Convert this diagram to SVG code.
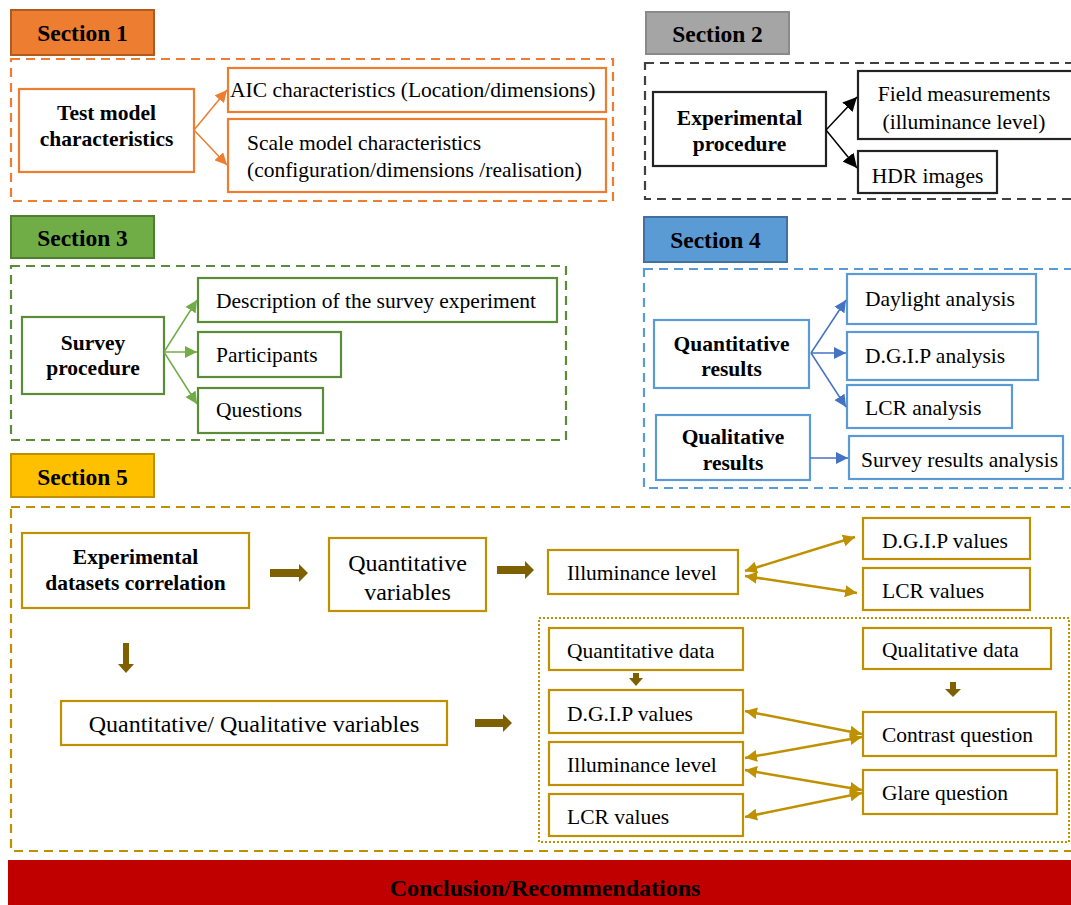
<svg xmlns="http://www.w3.org/2000/svg" width="1071" height="905" viewBox="0 0 1071 905">
<defs>
<style>
text{font-family:"Liberation Serif","Times New Roman",serif;fill:#000}
.lbl{font-size:23.5px;font-weight:bold;text-anchor:middle}
.b{font-size:21.5px;font-weight:bold;text-anchor:middle}
.t{font-size:21.5px}
.tm{font-size:21.5px;text-anchor:middle}
.tl{font-size:24px;text-anchor:middle}
.box{fill:#fff;stroke-width:2.2}
.o{stroke:#ED7D31}.k{stroke:#222}.g{stroke:#5B8C3A}.bl{stroke:#5B9BD5}.y{stroke:#BF9000}
.dash{fill:none;stroke-width:2.2;stroke-dasharray:9 6}
</style>
<marker id="ao" viewBox="0 0 10 10" refX="10" refY="5" markerWidth="12" markerHeight="12" markerUnits="userSpaceOnUse" orient="auto"><path d="M0,0L10,5L0,10z" fill="#ED7D31"/></marker>
<marker id="ak" viewBox="0 0 10 10" refX="10" refY="5" markerWidth="14" markerHeight="14" markerUnits="userSpaceOnUse" orient="auto"><path d="M0,0L10,5L0,10z" fill="#000"/></marker>
<marker id="ag" viewBox="0 0 10 10" refX="10" refY="5" markerWidth="12" markerHeight="12" markerUnits="userSpaceOnUse" orient="auto"><path d="M0,0L10,5L0,10z" fill="#70AD47"/></marker>
<marker id="ab" viewBox="0 0 10 10" refX="10" refY="5" markerWidth="12" markerHeight="12" markerUnits="userSpaceOnUse" orient="auto"><path d="M0,0L10,5L0,10z" fill="#4472C4"/></marker>
<marker id="ay" viewBox="0 0 10 10" refX="10" refY="5" markerWidth="12" markerHeight="12" markerUnits="userSpaceOnUse" orient="auto-start-reverse"><path d="M0,0L10,5L0,10z" fill="#BF9000"/></marker>
</defs>
<rect width="1071" height="905" fill="#fff"/>

<!-- Section frames -->
<g id="frames">
<rect class="dash" x="11" y="59" width="602" height="142" stroke="#ED7D31"/>
<rect class="dash" x="645" y="63" width="430" height="136" stroke="#404040"/>
<rect class="dash" x="11" y="266" width="555" height="174" stroke="#5B8C3A"/>
<rect class="dash" x="644" y="269" width="430" height="219" stroke="#5B9BD5"/>
<rect class="dash" x="11" y="507" width="1064" height="344" stroke="#BF9000"/>
<rect x="539" y="618" width="530" height="224" fill="none" stroke="#BF9000" stroke-width="2" stroke-dasharray="2 2"/>
</g>

<!-- Section labels -->
<g id="sec1"><rect x="11" y="10" width="143" height="45" fill="#ED7D31" stroke="#AE5A21" stroke-width="2"/><text class="lbl" x="82.5" y="41">Section 1</text></g>
<g id="sec2"><rect x="646" y="12" width="143" height="42" fill="#A5A5A5" stroke="#8A8A8A" stroke-width="2"/><text class="lbl" x="717.5" y="42">Section 2</text></g>
<g id="sec3"><rect x="11" y="216" width="143" height="42" fill="#70AD47" stroke="#507E32" stroke-width="2"/><text class="lbl" x="82.5" y="246">Section 3</text></g>
<g id="sec4"><rect x="644" y="217" width="143" height="45" fill="#5B9BD5" stroke="#41719C" stroke-width="2"/><text class="lbl" x="715.5" y="248">Section 4</text></g>
<g id="sec5"><rect x="11" y="454" width="143" height="43" fill="#FFC000" stroke="#BF9000" stroke-width="2"/><text class="lbl" x="82.5" y="485">Section 5</text></g>

<!-- Section 1 nodes -->
<g id="n-test"><rect class="box o" x="19" y="89" width="175" height="83"/><text class="b" x="106.5" y="120">Test model</text><text class="b" x="106.5" y="146">characteristics</text></g>
<g id="n-aic"><rect class="box o" x="228" y="68" width="378" height="44"/><text class="t" x="230" y="97">AIC characteristics (Location/dimensions)</text></g>
<g id="n-scale"><rect class="box o" x="228" y="119" width="378" height="73"/><text class="t" x="247" y="150">Scale model characteristics</text><text class="t" x="247" y="177">(configuration/dimensions /realisation)</text></g>

<!-- Section 2 nodes -->
<g id="n-exp"><rect class="box k" x="653" y="92" width="173" height="74"/><text class="b" x="739.5" y="125">Experimental</text><text class="b" x="739.5" y="151">procedure</text></g>
<g id="n-field"><rect class="box k" x="858" y="71" width="216" height="68"/><text class="tm" x="964" y="101">Field measurements</text><text class="tm" x="964" y="129">(illuminance level)</text></g>
<g id="n-hdr"><rect class="box k" x="858" y="151" width="139" height="42"/><text class="tm" x="927.5" y="183">HDR images</text></g>

<!-- Section 3 nodes -->
<g id="n-survey"><rect class="box g" x="22" y="317" width="142" height="77"/><text class="b" x="93" y="350">Survey</text><text class="b" x="93" y="375">procedure</text></g>
<g id="n-desc"><rect class="box g" x="198" y="278" width="359" height="44"/><text class="t" x="216" y="308">Description of the survey experiment</text></g>
<g id="n-part"><rect class="box g" x="198" y="332" width="143" height="45"/><text class="t" x="216" y="362">Participants</text></g>
<g id="n-quest"><rect class="box g" x="198" y="388" width="125" height="45"/><text class="t" x="216" y="417">Questions</text></g>

<!-- Section 4 nodes -->
<g id="n-quantres"><rect class="box bl" x="654" y="320" width="155" height="68"/><text class="b" x="731.5" y="351">Quantitative</text><text class="b" x="731.5" y="376">results</text></g>
<g id="n-day"><rect class="box bl" x="847" y="274" width="189" height="50"/><text class="t" x="865" y="306">Daylight analysis</text></g>
<g id="n-dgipa"><rect class="box bl" x="847" y="332" width="191" height="48"/><text class="t" x="865" y="363">D.G.I.P analysis</text></g>
<g id="n-lcra"><rect class="box bl" x="847" y="385" width="165" height="43"/><text class="t" x="865" y="415">LCR analysis</text></g>
<g id="n-qualres"><rect class="box bl" x="656" y="415" width="154" height="65"/><text class="b" x="733" y="444">Qualitative</text><text class="b" x="733" y="470">results</text></g>
<g id="n-surv"><rect class="box bl" x="849" y="436" width="214" height="43"/><text class="t" x="861" y="467">Survey results analysis</text></g>

<!-- Section 5 nodes -->
<g id="n-edc"><rect class="box y" x="22" y="533" width="227" height="75"/><text class="b" x="135.5" y="564">Experimental</text><text class="b" x="135.5" y="590">datasets correlation</text></g>
<g id="n-qv"><rect class="box y" x="329" y="538" width="157" height="73"/><text class="tl" x="407.5" y="571">Quantitative</text><text class="tl" x="407.5" y="600">variables</text></g>
<g id="n-ill1"><rect class="box y" x="548" y="550" width="190" height="44"/><text class="t" x="567" y="580">Illuminance level</text></g>
<g id="n-dgip1"><rect class="box y" x="863" y="518" width="167" height="41"/><text class="t" x="882" y="548">D.G.I.P values</text></g>
<g id="n-lcr1"><rect class="box y" x="863" y="568" width="167" height="42"/><text class="t" x="882" y="598">LCR values</text></g>
<g id="n-qqv"><rect class="box y" x="61" y="701" width="386" height="44"/><text class="tl" x="254" y="732">Quantitative/ Qualitative variables</text></g>
<g id="n-qd"><rect class="box y" x="549" y="628" width="194" height="42"/><text class="t" x="567" y="658">Quantitative data</text></g>
<g id="n-dgip2"><rect class="box y" x="549" y="690" width="194" height="43"/><text class="t" x="567" y="721">D.G.I.P values</text></g>
<g id="n-ill2"><rect class="box y" x="549" y="742" width="194" height="43"/><text class="t" x="567" y="772">Illuminance level</text></g>
<g id="n-lcr2"><rect class="box y" x="549" y="794" width="194" height="42"/><text class="t" x="567" y="824">LCR values</text></g>
<g id="n-qld"><rect class="box y" x="863" y="628" width="188" height="41"/><text class="t" x="882" y="657">Qualitative data</text></g>
<g id="n-contrast"><rect class="box y" x="863" y="712" width="193" height="44"/><text class="t" x="882" y="742">Contrast question</text></g>
<g id="n-glare"><rect class="box y" x="863" y="770" width="194" height="44"/><text class="t" x="882" y="800">Glare question</text></g>

<!-- Conclusion -->
<g id="n-concl"><rect x="8" y="860" width="1063" height="45" fill="#C00000"/><text class="lbl" x="545" y="896" style="font-size:24px">Conclusion/Recommendations</text></g>

<!-- Connectors -->
<g id="connectors" fill="none">
<line x1="194" y1="130" x2="227" y2="90" stroke="#ED7D31" stroke-width="1.5" marker-end="url(#ao)"/>
<line x1="194" y1="130" x2="227" y2="165" stroke="#ED7D31" stroke-width="1.5" marker-end="url(#ao)"/>
<line x1="826" y1="130" x2="857" y2="97" stroke="#000" stroke-width="1.5" marker-end="url(#ak)"/>
<line x1="826" y1="130" x2="857" y2="168" stroke="#000" stroke-width="1.5" marker-end="url(#ak)"/>
<line x1="164" y1="352" x2="197" y2="300" stroke="#70AD47" stroke-width="1.5" marker-end="url(#ag)"/>
<line x1="164" y1="352" x2="197" y2="352" stroke="#70AD47" stroke-width="1.5" marker-end="url(#ag)"/>
<line x1="164" y1="352" x2="197" y2="404" stroke="#70AD47" stroke-width="1.5" marker-end="url(#ag)"/>
<line x1="811" y1="353" x2="846" y2="300" stroke="#4472C4" stroke-width="1.5" marker-end="url(#ab)"/>
<line x1="811" y1="353" x2="846" y2="353" stroke="#4472C4" stroke-width="1.5" marker-end="url(#ab)"/>
<line x1="811" y1="353" x2="846" y2="407" stroke="#4472C4" stroke-width="1.5" marker-end="url(#ab)"/>
<line x1="810" y1="458" x2="848" y2="458" stroke="#4472C4" stroke-width="1.5" marker-end="url(#ab)"/>
<g stroke="#BF9000" stroke-width="2.5">
<line x1="745" y1="571" x2="855" y2="537" marker-start="url(#ay)" marker-end="url(#ay)"/>
<line x1="745" y1="576" x2="857" y2="593" marker-start="url(#ay)" marker-end="url(#ay)"/>
<line x1="745" y1="711" x2="862" y2="734" marker-start="url(#ay)" marker-end="url(#ay)"/>
<line x1="745" y1="758" x2="862" y2="737" marker-start="url(#ay)" marker-end="url(#ay)"/>
<line x1="745" y1="770" x2="862" y2="790" marker-start="url(#ay)" marker-end="url(#ay)"/>
<line x1="745" y1="817" x2="862" y2="793" marker-start="url(#ay)" marker-end="url(#ay)"/>
</g>
<g fill="#7F6000" stroke="none">
<path d="M270,569H299V564L308,573L299,582V577H270z"/>
<path d="M497,566H525V561L534,570L525,579V574H497z"/>
<path d="M475,719H503V714L512,723L503,732V727H475z"/>
<path d="M123,643H129V664H134L126,673L118,664H123z"/>
<path d="M633,673H639V678H643L636,686L629,678H633z"/>
<path d="M950,682H956V689H961L953,697L945,689H950z"/>
</g>
</g>
</svg>
